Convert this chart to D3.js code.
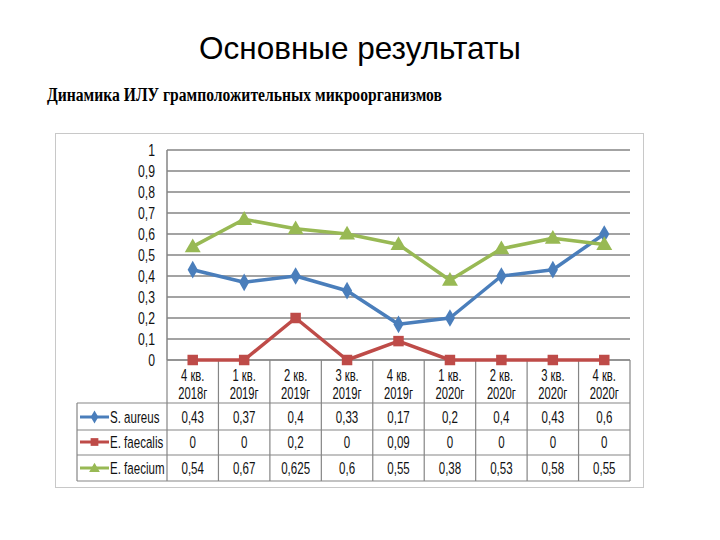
<!DOCTYPE html>
<html><head><meta charset="utf-8">
<script src="https://cdn.jsdelivr.net/npm/d3@7"></script>
<style>body{margin:0;background:#fff}svg{display:block}</style>
</head><body>
<script>
const quarters = ["4 кв.","1 кв.","2 кв.","3 кв.","4 кв.","1 кв.","2 кв.","3 кв.","4 кв."];
const years = ["2018г","2019г","2019г","2019г","2019г","2020г","2020г","2020г","2020г"];
const seriesNames = ["S. aureus","E. faecalis","E. faecium"];
const sAureus = [0.43,0.37,0.4,0.33,0.17,0.2,0.4,0.43,0.6];
const eFaecalis = [0,0,0.2,0,0.09,0,0,0,0];
const eFaecium = [0.54,0.67,0.625,0.6,0.55,0.38,0.53,0.58,0.55];
const yTicks = [0,0.1,0.2,0.3,0.4,0.5,0.6,0.7,0.8,0.9,1];
const colors = ["#4A7EBB","#BE4B48","#98B954"];
const symbols = [d3.symbolDiamond, d3.symbolSquare, d3.symbolTriangle];

const W=720,H=540;
const svg=d3.select("body").append("svg").attr("width",W).attr("height",H);
const font='"Liberation Sans",Arial,sans-serif';
const SX=0.68;
function txt(parent,px,py,str,anchor,size){
  return parent.append("text").attr("transform",`translate(${px},${py}) scale(${SX},1)`)
    .attr("text-anchor",anchor||"middle").attr("font-family",font).attr("font-size",size||17)
    .attr("fill","#111").text(str);
}

svg.append("text").attr("x",360).attr("y",59).attr("text-anchor","middle")
  .attr("font-family",'"Liberation Sans",Arial,sans-serif').attr("font-size",31.5).attr("fill","#000")
  .text("Основные результаты");
svg.append("text").attr("x",47).attr("y",101)
  .attr("font-family",'"Liberation Serif","Times New Roman",serif').attr("font-size",18).attr("font-weight","bold")
  .attr("textLength",395).attr("lengthAdjust","spacingAndGlyphs").attr("fill","#000")
  .text("Динамика ИЛУ грамположительных микроорганизмов");

// chart frame
svg.append("rect").attr("x",55.5).attr("y",133.5).attr("width",588).attr("height",354)
  .attr("fill","#fff").attr("stroke","#c8c8c8").attr("stroke-width",1);

const pLeft=167,pRight=630,pTop=150,pZero=360;
const x=d3.scaleBand().domain(d3.range(quarters.length)).range([pLeft,pRight]);
const y=d3.scaleLinear().domain([0,1]).range([pZero,pTop]);

// gridlines
svg.append("g").selectAll("line").data(yTicks).join("line")
  .attr("x1",pLeft).attr("x2",pRight).attr("y1",d=>y(d)).attr("y2",d=>y(d))
  .attr("stroke","#858585").attr("stroke-width",1.5);
svg.append("line").attr("x1",pLeft).attr("x2",pLeft).attr("y1",pTop).attr("y2",pZero)
  .attr("stroke","#858585").attr("stroke-width",1.5);

const yAxis=d3.axisLeft(y).tickValues(yTicks).tickSize(0).tickPadding(12)
  .tickFormat(d=>String(d).replace(".",","));
const ya=svg.append("g").attr("transform",`translate(${pLeft},0)`).call(yAxis);
ya.select(".domain").remove();
ya.selectAll("text").attr("font-family",font).attr("font-size",16.5).attr("fill","#111")
  .attr("transform",`translate(-12,0) scale(0.74,1)`).attr("x",0);

// table
const legendLeft=77;
const tg=svg.append("g").attr("stroke","#858585").attr("stroke-width",1.2);
tg.append("line").attr("x1",pLeft).attr("x2",pRight).attr("y1",pZero).attr("y2",pZero);
[403,430,455,481].forEach(v=>tg.append("line").attr("x1",legendLeft).attr("x2",pRight).attr("y1",v).attr("y2",v));
x.domain().forEach(i=>tg.append("line").attr("x1",x(i)).attr("x2",x(i)).attr("y1",pZero).attr("y2",481));
tg.append("line").attr("x1",pRight).attr("x2",pRight).attr("y1",pZero).attr("y2",481);
tg.append("line").attr("x1",legendLeft).attr("x2",legendLeft).attr("y1",403).attr("y2",481);

const hdr=svg.append("g");
x.domain().forEach(i=>{
  txt(hdr,x(i)+x.bandwidth()/2,380.5,quarters[i],"middle",16.5);
  txt(hdr,x(i)+x.bandwidth()/2,398.5,years[i],"middle",16.5);
});

const allSeries=[sAureus,eFaecalis,eFaecium];
const rowCenters=[417,442,468];
allSeries.forEach((vals,s)=>{
  const g=svg.append("g");
  vals.forEach((v,i)=>{
    txt(g,x(i)+x.bandwidth()/2,rowCenters[s]+6,String(v).replace(".",","));
  });
  svg.append("line").attr("x1",80).attr("x2",109).attr("y1",rowCenters[s]).attr("y2",rowCenters[s])
    .attr("stroke",colors[s]).attr("stroke-width",3);
  svg.append("path").attr("d",d3.symbol(symbols[s],s===1?60:50)())
    .attr("transform",`translate(94.5,${rowCenters[s]+(s===2?1:0)})`).attr("fill",colors[s]);
  txt(g,110,rowCenters[s]+6,seriesNames[s],"start");
});

// lines
const line=d3.line().x((d,i)=>x(i)+x.bandwidth()/2).y(d=>y(d));
allSeries.forEach((vals,s)=>{
  svg.append("path").datum(vals).attr("d",line).attr("fill","none")
    .attr("stroke",colors[s]).attr("stroke-width",3.5).attr("stroke-linejoin","round");
});
const symSize=[90,110,110];
allSeries.forEach((vals,s)=>{
  svg.append("g").selectAll("path").data(vals).join("path")
    .attr("d",d3.symbol(symbols[s],symSize[s])())
    .attr("transform",(d,i)=>`translate(${x(i)+x.bandwidth()/2},${y(d)+(s===2?1:0)})`)
    .attr("fill",colors[s]);
});
</script>
</body></html>
